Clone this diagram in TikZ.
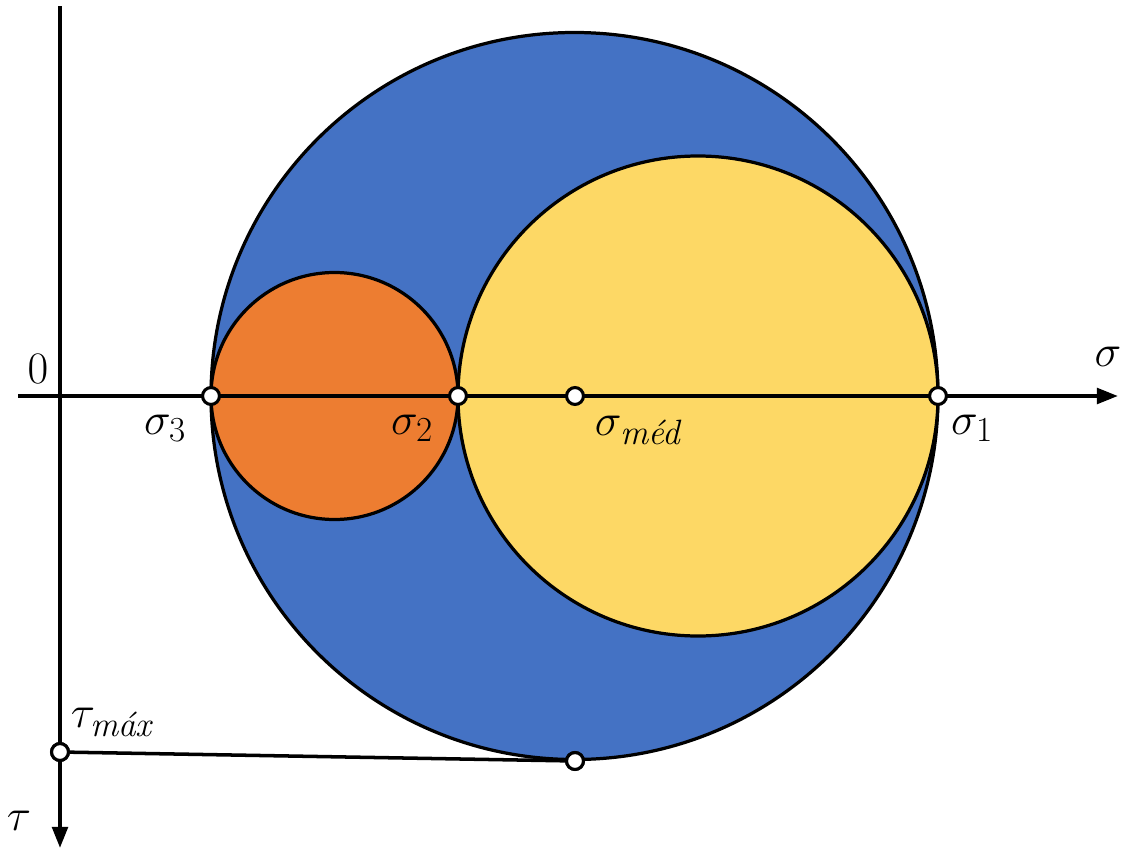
\RequirePackage{fix-cm}
\documentclass[tikz,border=0pt]{standalone}
\usepackage{amsmath}
\usepackage{xcolor}
\usepackage{tikz}
\usetikzlibrary{arrows.meta, positioning}

\definecolor{mohrblue}{HTML}{4472C4}
\definecolor{mohryellow}{HTML}{FDD865}
\definecolor{mohrorange}{HTML}{ED7D31}
\DeclareMathSizes{32}{32}{25}{19}

\begin{document}
\begin{tikzpicture}[
  x=0.025cm, y=-0.025cm,
  axis/.style={line width=2.8pt, -{Triangle[length=15pt, width=11pt]}},
  circ/.style={draw=black, line width=2.3pt},
  pt/.style={circle, draw, fill=white, line width=2.2pt, inner sep=0pt,
             minimum size=12pt},
  every node/.style={font=\fontsize{32}{38}\selectfont}
]
  \useasboundingbox (0,0) rectangle (1126,848);

  % Circles
  \filldraw[circ, fill=mohrblue] (574.5,396) circle[radius=363.5];
  \filldraw[circ, fill=mohrorange] (334.5,396) circle[radius=123.5];
  \filldraw[circ, fill=mohryellow] (698,396) circle[radius=240];

  % Axes
  \coordinate (xstart) at (18,396);
  \coordinate (xend) at (1118,396);
  \coordinate (ystart) at (60,6);
  \coordinate (yend) at (60,848);
  \draw[axis] (xstart) -- (xend);
  \draw[axis] (ystart) -- (yend);

  % Points
  \node[pt] (s3) at (211,396) {};
  \node[pt] (s2) at (458,396) {};
  \node[pt] (smed) at (575,396) {};
  \node[pt] (s1) at (938,396) {};
  \node[pt] (tmax) at (60,752) {};
  \node[pt] (bottom) at (575,761) {};
  \draw[line width=2.5pt] (tmax) -- (bottom);
  \node[pt] at (tmax) {};
  \node[pt] at (bottom) {};

  % Labels
  \node (zero) at (38,369) {$0$};
  \node (ls3) at (165,428) {$\sigma_3$};
  \node (ls2) at (412,428) {$\sigma_2$};
  \node[anchor=west] (lsmed) at (590,430) {$\sigma_{\textit{méd}}$};
  \node (ls1) at (972,428) {$\sigma_1$};
  \node (lsig) at (1108,357) {$\sigma$};
  \node (ltau) at (19,821) {$\tau$};
  \node[anchor=west] (ltmax) at (66,722) {$\tau_{\textit{máx}}$};
\end{tikzpicture}
\end{document}
